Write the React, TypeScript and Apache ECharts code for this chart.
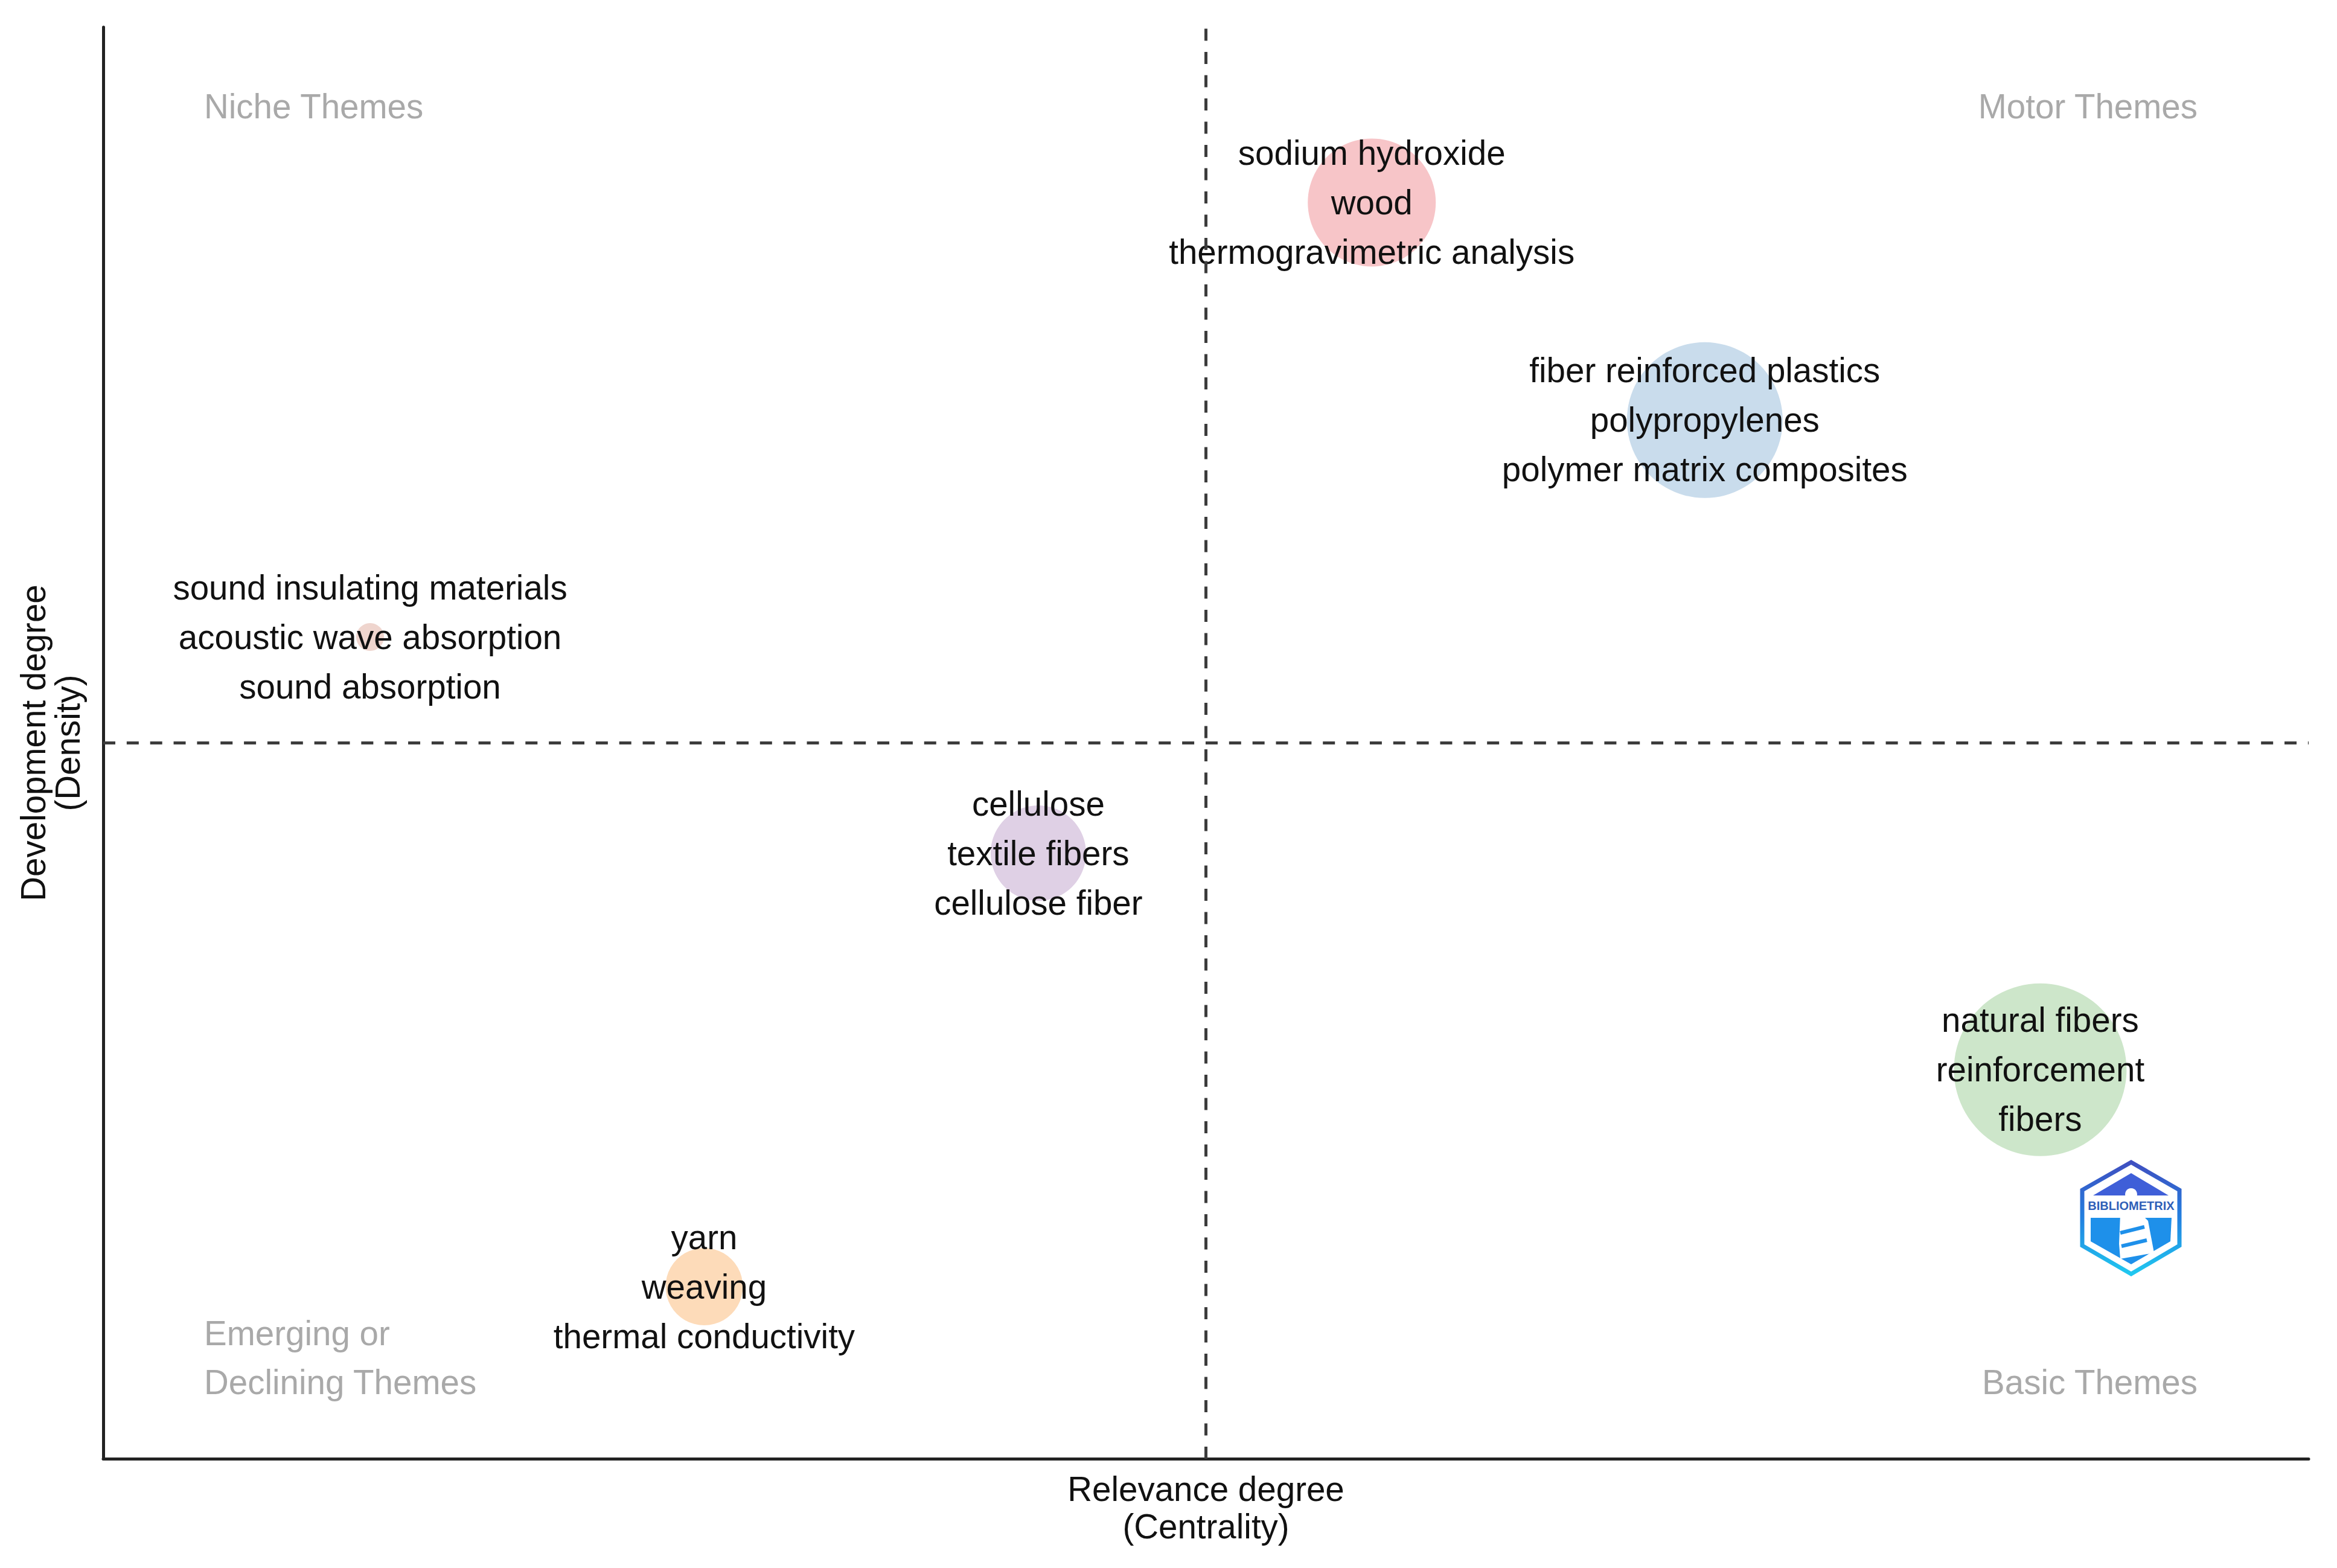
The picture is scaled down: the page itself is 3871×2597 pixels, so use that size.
import React, { useEffect, useRef } from "react";
import * as echarts from "echarts";

const clusters = [
  "sodium hydroxide\nwood\nthermogravimetric analysis",
  "fiber reinforced plastics\npolypropylenes\npolymer matrix composites",
  "sound insulating materials\nacoustic wave absorption\nsound absorption",
  "cellulose\ntextile fibers\ncellulose fiber",
  "natural fibers\nreinforcement\nfibers",
  "yarn\nweaving\nthermal conductivity",
];
const centrality = [57.52, 72.62, 12.1, 42.4, 87.83, 27.25];
const density = [87.75, 72.55, 57.4, 42.3, 27.17, 12.02];
const bubbleSizes = [212, 258, 46, 158, 286, 128];
const bubbleColors = ["#f7c5c8", "#c9dcec", "#efd5ce", "#dfd0e5", "#cde6ca", "#fddbb9"];
const medianX = 50;
const medianY = 50;
const xName = "Relevance degree\n(Centrality)";
const yName = "Development degree\n(Density)";
const FONT = '"Liberation Sans", Arial, sans-serif';
const FS = 56.5;

export default function App() {
  const ref = useRef<HTMLDivElement>(null);
  useEffect(() => {
    const chart = echarts.init(ref.current!, null, { renderer: "svg" });
    const blue = new echarts.graphic.LinearGradient(0, 0, 0, 1, [
      { offset: 0, color: "#3f4fc0" },
      { offset: 0.5, color: "#2280e0" },
      { offset: 1, color: "#20c8f0" },
    ]);
    const quad = (text: string, extra: any) => ({
      type: "text",
      ...extra,
      style: {
        text,
        fill: "#a9a9a9",
        font: `${FS}px ${FONT}`,
        lineHeight: 82,
        textAlign: extra.align || "left",
        textVerticalAlign: "middle",
      },
    });
    chart.setOption({
      animation: false,
      backgroundColor: "#ffffff",
      grid: { left: 171, top: 45, width: 3653, height: 2371, containLabel: false },
      xAxis: {
        type: "value",
        min: 0,
        max: 100,
        name: xName,
        nameLocation: "middle",
        nameGap: 19,
        nameTextStyle: { fontFamily: FONT, fontSize: FS, color: "#111", lineHeight: 62, verticalAlign: "top" },
        axisLine: { show: true, lineStyle: { color: "#222", width: 5 } },
        axisTick: { show: false },
        axisLabel: { show: false },
        splitLine: { show: false },
      },
      yAxis: {
        type: "value",
        min: 0,
        max: 100,
        name: yName,
        nameLocation: "middle",
        nameGap: 30,
        nameRotate: 90,
        nameTextStyle: { fontFamily: FONT, fontSize: FS, color: "#111", lineHeight: 57, verticalAlign: "bottom" },
        axisLine: { show: true, lineStyle: { color: "#222", width: 5 } },
        axisTick: { show: false },
        axisLabel: { show: false },
        splitLine: { show: false },
      },
      series: [
        {
          type: "scatter",
          clip: false,
          data: clusters.map((name, i) => ({
            name,
            value: [centrality[i], density[i]],
            symbolSize: bubbleSizes[i],
            itemStyle: { color: bubbleColors[i], opacity: 1 },
          })),
          label: {
            show: true,
            position: "inside",
            formatter: (p: any) => p.name,
            fontFamily: FONT,
            fontSize: FS,
            lineHeight: 82,
            color: "#111",
            align: "center",
            verticalAlign: "middle",
          },
          labelLayout: { hideOverlap: false },
          markLine: {
            silent: true,
            symbol: "none",
            label: { show: false },
            lineStyle: { color: "#3c3c3c", width: 5, type: [20, 18.5] },
            data: [
              { xAxis: medianX },
              { yAxis: medianY, lineStyle: { color: "#3c3c3c", width: 5, type: [20, 18.85] } },
            ],
          },
        },
      ],
      graphic: [
        quad("Niche Themes", { x: 338, y: 176 }),
        quad("Motor Themes", { x: 3640, y: 176, align: "right" }),
        quad("Emerging or", { x: 338, y: 2208 }),
        quad("Declining Themes", { x: 338, y: 2289 }),
        quad("Basic Themes", { x: 3640, y: 2289, align: "right" }),
        {
          type: "group",
          children: [
            {
              type: "polygon",
              shape: { points: [[3530, 1925], [3610, 1971], [3610, 2063], [3530, 2110], [3449, 2063], [3449, 1971]] },
              style: { fill: "#ffffff", stroke: blue, lineWidth: 7 },
            },
            {
              type: "polygon",
              shape: { points: [[3467, 1980], [3530, 1943], [3592, 1980]] },
              style: { fill: "#3f5fd8" },
            },
            {
              type: "polygon",
              shape: { points: [[3463, 2017], [3597, 2017], [3595, 2056], [3530, 2094], [3463, 2056]] },
              style: { fill: "#1e90ea" },
            },
            { type: "circle", shape: { cx: 3530, cy: 1978, r: 10 }, style: { fill: "#ffffff" } },
            {
              type: "polygon",
              shape: { points: [[3512, 2012], [3548, 2012], [3558, 2022], [3568, 2075], [3512, 2085], [3510, 2060]] },
              style: { fill: "#ffffff" },
            },
            {
              type: "polyline",
              shape: { points: [[3512, 2042], [3552, 2032]] },
              style: { stroke: "#1e90ea", lineWidth: 6, fill: "none" },
            },
            {
              type: "polyline",
              shape: { points: [[3514, 2064], [3556, 2054]] },
              style: { stroke: "#1e90ea", lineWidth: 6, fill: "none" },
            },
            {
              type: "text",
              x: 3530,
              y: 1997,
              style: {
                text: "BIBLIOMETRIX",
                fill: "#2f5fb8",
                font: `bold 20px ${FONT}`,
                textAlign: "center",
                textVerticalAlign: "middle",
              },
            },
          ],
        },
      ],
    });
    return () => chart.dispose();
  }, []);
  return (
    <div
      ref={ref}
      style={{ position: "absolute", left: 0, top: 0, width: 3871, height: 2597, background: "#fff" }}
    />
  );
}
